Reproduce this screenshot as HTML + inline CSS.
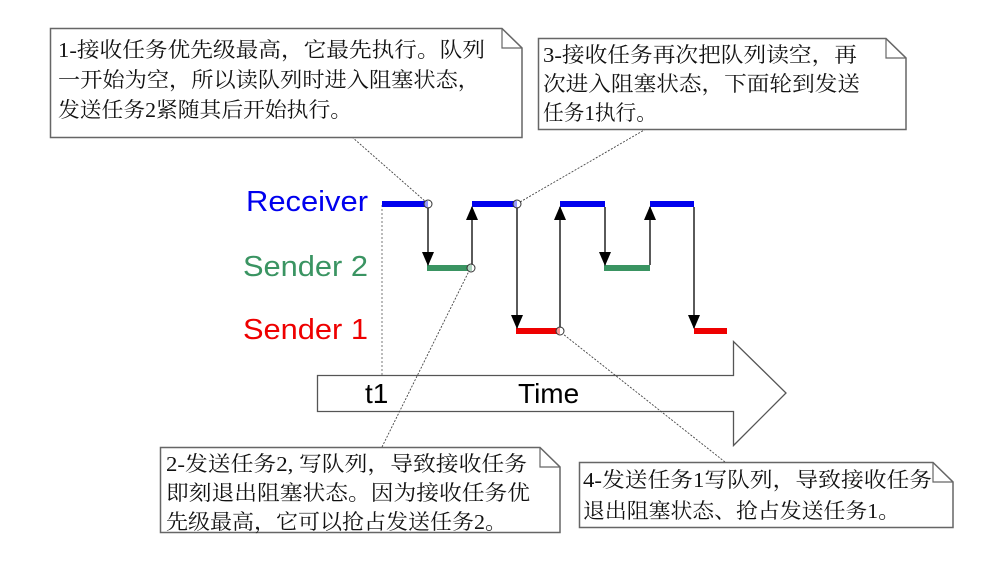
<!DOCTYPE html>
<html><head><meta charset="utf-8"><style>
html,body{margin:0;padding:0;background:#fff;width:988px;height:575px;overflow:hidden}
svg{display:block}
.cj{font-family:"Liberation Serif","Noto Serif CJK SC","Noto Sans CJK SC",serif;font-size:21px;fill:#111}
.lb{font-family:"Liberation Sans",Arial,sans-serif}
</style></head><body>
<svg width="988" height="575" viewBox="0 0 988 575" xmlns="http://www.w3.org/2000/svg">
<defs><marker id="ah" markerWidth="14" markerHeight="12" refX="13" refY="6" orient="auto" markerUnits="userSpaceOnUse"><path d="M0,0 L14,6 L0,12 z" fill="#000"/></marker></defs>

<path d="M317.5,375.5 H733.5 V341.5 L786,393 L733.5,445.5 V411.5 H317.5 Z" fill="#fff" stroke="#555" stroke-width="1.3"/>
<text x="365" y="403" class="lb" font-size="28" fill="#000">t1</text>
<text x="518" y="403" class="lb" font-size="28" fill="#000">Time</text>

<line x1="382" y1="205" x2="382" y2="375" stroke="#777" stroke-width="1" stroke-dasharray="2,2"/>

<text x="246" y="211" textLength="122" lengthAdjust="spacingAndGlyphs" class="lb" font-size="29" fill="#0000ee">Receiver</text>
<text x="243" y="276" textLength="125" lengthAdjust="spacingAndGlyphs" class="lb" font-size="29" fill="#3a9462">Sender 2</text>
<text x="243" y="339" textLength="125" lengthAdjust="spacingAndGlyphs" class="lb" font-size="29" fill="#ee0000">Sender 1</text>

<g stroke-width="6">
<line x1="382" y1="204" x2="428" y2="204" stroke="#0000ee"/>
<line x1="472" y1="204" x2="517" y2="204" stroke="#0000ee"/>
<line x1="560" y1="204" x2="605" y2="204" stroke="#0000ee"/>
<line x1="650" y1="204" x2="694" y2="204" stroke="#0000ee"/>
<line x1="427" y1="268" x2="472" y2="268" stroke="#3a9462"/>
<line x1="604" y1="268" x2="650" y2="268" stroke="#3a9462"/>
<line x1="516" y1="331" x2="560" y2="331" stroke="#ee0000"/>
<line x1="694" y1="331" x2="727" y2="331" stroke="#ee0000"/>
</g>

<g stroke="#222" stroke-width="1.5" marker-end="url(#ah)">
<line x1="428" y1="207" x2="428" y2="265"/>
<line x1="472" y1="265" x2="472" y2="207"/>
<line x1="517" y1="207" x2="517" y2="328"/>
<line x1="560" y1="328" x2="560" y2="207"/>
<line x1="605" y1="207" x2="605" y2="265"/>
<line x1="650" y1="265" x2="650" y2="207"/>
<line x1="694" y1="207" x2="694" y2="328"/>
</g>

<g stroke="#444" stroke-width="0.9" stroke-dasharray="2,1.5" fill="none">
<line x1="352" y1="137" x2="426" y2="202"/>
<line x1="646" y1="129" x2="520" y2="202"/>
<line x1="382" y1="447" x2="469" y2="271"/>
<line x1="725" y1="462" x2="563" y2="334"/>
</g>
<g fill="#fff" fill-opacity="0.6" stroke="#333" stroke-width="1">
<circle cx="428" cy="204" r="4"/>
<circle cx="517" cy="204" r="4"/>
<circle cx="471" cy="268" r="4"/>
<circle cx="560" cy="331" r="4"/>
</g>

<g fill="#fff" stroke="#666" stroke-width="1.5">
<path d="M50.5,28.5 H502 L522,48 V137.5 H50.5 Z"/>
<path d="M538.5,38.5 H886 L906,58 V129.5 H538.5 Z"/>
<path d="M160.5,447.5 H540 L560,467 V532.5 H160.5 Z"/>
<path d="M579.5,462.5 H933 L953,482 V527.5 H579.5 Z"/>
</g>
<g fill="none" stroke="#666" stroke-width="1.2">
<path d="M502,28.5 V48 H522"/>
<path d="M886,38.5 V58 H906"/>
<path d="M540,447.5 V467 H560"/>
<path d="M933,462.5 V482 H953"/>
</g>

<g class="cj">
<text x="58" y="57" textLength="427" lengthAdjust="spacingAndGlyphs">1-接收任务优先级最高，它最先执行。队列</text>
<text x="58" y="87" textLength="422" lengthAdjust="spacingAndGlyphs">一开始为空，所以读队列时进入阻塞状态，</text>
<text x="58" y="117" textLength="294" lengthAdjust="spacingAndGlyphs">发送任务2紧随其后开始执行。</text>

<text x="543" y="62" textLength="314" lengthAdjust="spacingAndGlyphs">3-接收任务再次把队列读空，再</text>
<text x="543" y="91" textLength="317" lengthAdjust="spacingAndGlyphs">次进入阻塞状态，下面轮到发送</text>
<text x="543" y="120" textLength="114" lengthAdjust="spacingAndGlyphs">任务1执行。</text>

<text x="166" y="471" textLength="361" lengthAdjust="spacingAndGlyphs">2-发送任务2, 写队列，导致接收任务</text>
<text x="166" y="500" textLength="364" lengthAdjust="spacingAndGlyphs">即刻退出阻塞状态。因为接收任务优</text>
<text x="166" y="529" textLength="341" lengthAdjust="spacingAndGlyphs">先级最高，它可以抢占发送任务2。</text>

<text x="583" y="487" textLength="349" lengthAdjust="spacingAndGlyphs">4-发送任务1写队列，导致接收任务</text>
<text x="583" y="518" textLength="317" lengthAdjust="spacingAndGlyphs">退出阻塞状态、抢占发送任务1。</text>
</g>
</svg>
</body></html>
